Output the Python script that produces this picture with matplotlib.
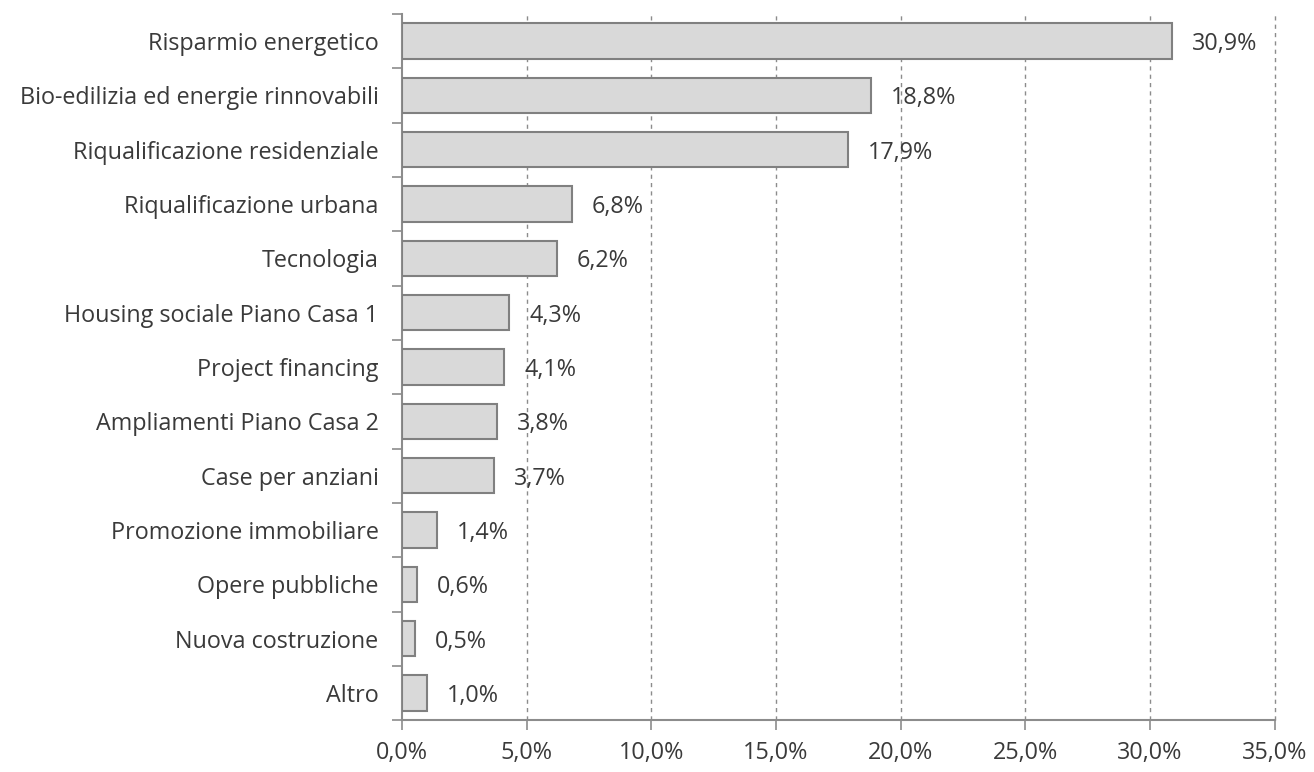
import matplotlib
matplotlib.use("Agg")
import matplotlib.pyplot as plt
from matplotlib.ticker import FuncFormatter, FixedLocator

categories = [
    "Risparmio energetico",
    "Bio-edilizia ed energie rinnovabili",
    "Riqualificazione residenziale",
    "Riqualificazione urbana",
    "Tecnologia",
    "Housing sociale Piano Casa 1",
    "Project financing",
    "Ampliamenti Piano Casa 2",
    "Case per anziani",
    "Promozione immobiliare",
    "Opere pubbliche",
    "Nuova costruzione",
    "Altro",
]
values = [30.9, 18.8, 17.9, 6.8, 6.2, 4.3, 4.1, 3.8, 3.7, 1.4, 0.6, 0.5, 1.0]
x_ticks = [0, 5, 10, 15, 20, 25, 30, 35]

plt.rcParams['font.family'] = ['Open Sans', 'DejaVu Sans']
text_color = "#3a3a3a"
axis_color = "#8c8c8c"
fs = 16.8

fig = plt.figure(figsize=(13.14, 7.72), dpi=100)
ax = fig.add_axes([0.306, 0.067, 0.664, 0.915])

n = len(categories)
pos = list(range(n))
ax.barh(pos, values, height=0.65, color="#d9d9d9", edgecolor="#808080", linewidth=1.5, zorder=3)

for p, v in zip(pos, values):
    ax.text(v + 0.8, p, f"{v:.1f}%".replace(".", ","), va="center_baseline", ha="left",
            fontsize=fs, color=text_color, zorder=4)

ax.set_xlim(0, 35)
ax.set_ylim(n - 0.5, -0.5)

ax.xaxis.set_major_locator(FixedLocator(x_ticks))
ax.xaxis.set_major_formatter(FuncFormatter(lambda x, _: f"{x:.1f}%".replace(".", ",")))
for t in x_ticks[1:]:
    ax.axvline(t, color="#8c8c8c", linestyle=(0, (3, 3)), linewidth=1.0, zorder=1, clip_on=False)

ax.set_yticks(pos)
ax.set_yticklabels(categories, va="center_baseline")
ax.set_yticks([i - 0.5 for i in range(n + 1)], minor=True)
ax.tick_params(axis="y", which="major", length=0, pad=17, labelsize=fs, labelcolor=text_color)
ax.tick_params(axis="y", which="minor", length=7, width=1.2, color=axis_color, direction="out")
ax.tick_params(axis="x", which="major", length=7, width=1.2, color=axis_color, direction="out",
               labelsize=fs, labelcolor=text_color, pad=8)

for s in ("top", "right"):
    ax.spines[s].set_visible(False)
for s in ("left", "bottom"):
    ax.spines[s].set_color(axis_color)
    ax.spines[s].set_linewidth(1.5)

fig.savefig("out.png", dpi=100, facecolor="white")
